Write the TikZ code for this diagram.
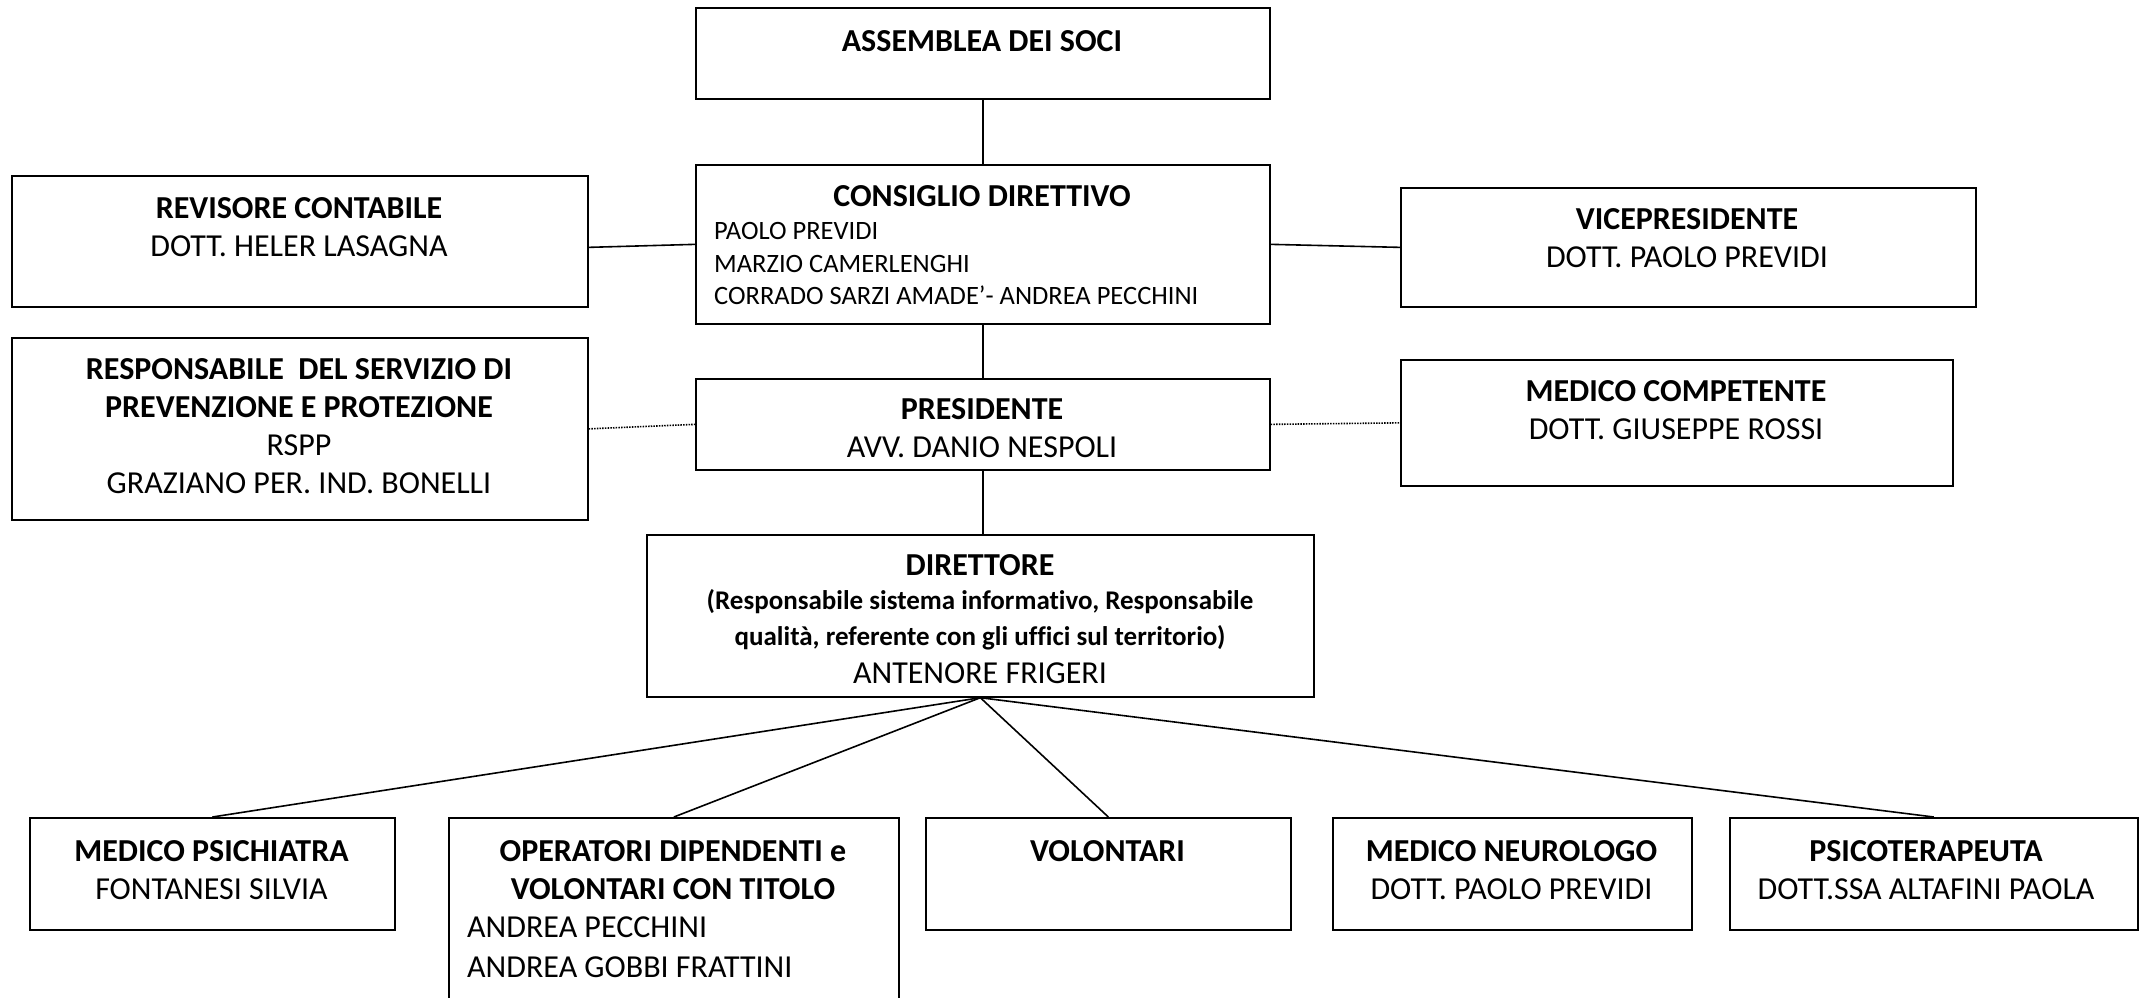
\documentclass[tikz,border=0pt]{standalone}
\usepackage{fontspec}
\setmainfont{Carlito}[Ligatures={NoCommon,NoContextual}]
\begin{document}
\begin{tikzpicture}[x=1pt,y=-1pt,
  box/.style={draw, line width=1.7pt, inner sep=0pt, anchor=north west},
  ttl/.style={font=\bfseries\fontsize{32}{38.5}\selectfont, align=center, anchor=north, inner sep=0pt},
  bigtxt/.style={font=\fontsize{32}{38.5}\selectfont, align=center, anchor=north, inner sep=0pt},
  small/.style={font=\fontsize{26.5}{32.2}\selectfont, align=left, anchor=north west, inner sep=0pt},
  link/.style={line width=1.6pt},
  dotlink/.style={line width=1.6pt, dash pattern=on 1.5pt off 1.2pt}]
\useasboundingbox (0,0) rectangle (2140,997);
\clip (0,0) rectangle (2140,997);

% boxes
\node[box, minimum width=574pt, minimum height=91pt]  (ass)  at (695,7)    {};
\node[box, minimum width=574pt, minimum height=159pt] (cons) at (695,164)  {};
\node[box, minimum width=576pt, minimum height=131pt] (rev)  at (11,175)   {};
\node[box, minimum width=575pt, minimum height=119pt] (vice) at (1400,187) {};
\node[box, minimum width=576pt, minimum height=182pt] (rspp) at (11,337)   {};
\node[box, minimum width=574pt, minimum height=91pt]  (pres) at (695,378)  {};
\node[box, minimum width=552pt, minimum height=126pt] (med)  at (1400,359) {};
\node[box, minimum width=667pt, minimum height=162pt] (dir)  at (646,534)  {};
\node[box, minimum width=365pt, minimum height=112pt] (psi)  at (29,817)   {};
\node[box, minimum width=450pt, minimum height=220pt] (ope)  at (448,817)  {};
\node[box, minimum width=365pt, minimum height=112pt] (vol)  at (925,817)  {};
\node[box, minimum width=359pt, minimum height=112pt] (neu)  at (1332,817) {};
\node[box, minimum width=408pt, minimum height=112pt] (pst)  at (1729,817) {};

% texts
\node[ttl] (assT) at (982,30) {ASSEMBLEA DEI SOCI};
\node[ttl] (consT) at (982,185) {CONSIGLIO DIRETTIVO};
\node[small] (consM) at (714,222.5) {PAOLO PREVIDI\\MARZIO CAMERLENGHI\\CORRADO SARZI AMADE’- ANDREA PECCHINI};
\node[ttl] (revT) at (299,197) {REVISORE CONTABILE\\\mdseries DOTT. HELER LASAGNA};
\node[ttl] (viceT) at (1687,208) {VICEPRESIDENTE\\\mdseries DOTT. PAOLO PREVIDI};
\node[ttl, font=\bfseries\fontsize{32}{38}\selectfont] (rsppT) at (299,358) {RESPONSABILE\ \ DEL SERVIZIO DI\\PREVENZIONE E PROTEZIONE\\\mdseries RSPP\\\mdseries GRAZIANO PER. IND. BONELLI};
\node[ttl] (presT) at (982,398) {PRESIDENTE\\\mdseries AVV. DANIO NESPOLI};
\node[ttl] (medT) at (1676,380) {MEDICO COMPETENTE\\\mdseries DOTT. GIUSEPPE ROSSI};
\node[ttl] (dirT) at (980,554) {DIRETTORE};
\node[font=\bfseries\fontsize{27}{35.5}\selectfont, align=center, inner sep=0pt] (dirR) at (980,620) {(Responsabile sistema informativo, Responsabile\\qualità, referente con gli uffici sul territorio)};
\node[bigtxt] (dirN) at (980,663) {ANTENORE FRIGERI};
\node[ttl] (psiT) at (211.5,840) {MEDICO PSICHIATRA\\\mdseries FONTANESI SILVIA};
\node[ttl] (opeT) at (673,840) {OPERATORI DIPENDENTI e\\VOLONTARI CON TITOLO};
\node[small, font=\fontsize{32}{39.5}\selectfont] (opeM) at (467,917) {ANDREA PECCHINI\\ANDREA GOBBI FRATTINI};
\node[ttl] (volT) at (1107.5,840) {VOLONTARI};
\node[ttl] (neuT) at (1511.5,840) {MEDICO NEUROLOGO\\\mdseries DOTT. PAOLO PREVIDI};
\node[ttl] (pstT) at (1926,840) {PSICOTERAPEUTA\\\mdseries DOTT.SSA ALTAFINI PAOLA};

% connectors
\draw[link] (ass.south) -- (cons.north);
\draw[link] (cons.south) -- (pres.north);
\draw[link] (pres.south) -- (pres.south |- dir.north);
\draw[link] ([yshift=-6pt]rev.east) -- (cons.west);
\draw[link] (cons.east) -- (vice.west);
\draw[dotlink] (rspp.east) -- (pres.west);
\draw[dotlink] (pres.east) -- (med.west);
\draw[link] (dir.south) -- (psi.north);
\draw[link] (dir.south) -- (ope.north);
\draw[link] (dir.south) -- (vol.north);
\draw[link] (dir.south) -- (pst.north);
\end{tikzpicture}
\end{document}
